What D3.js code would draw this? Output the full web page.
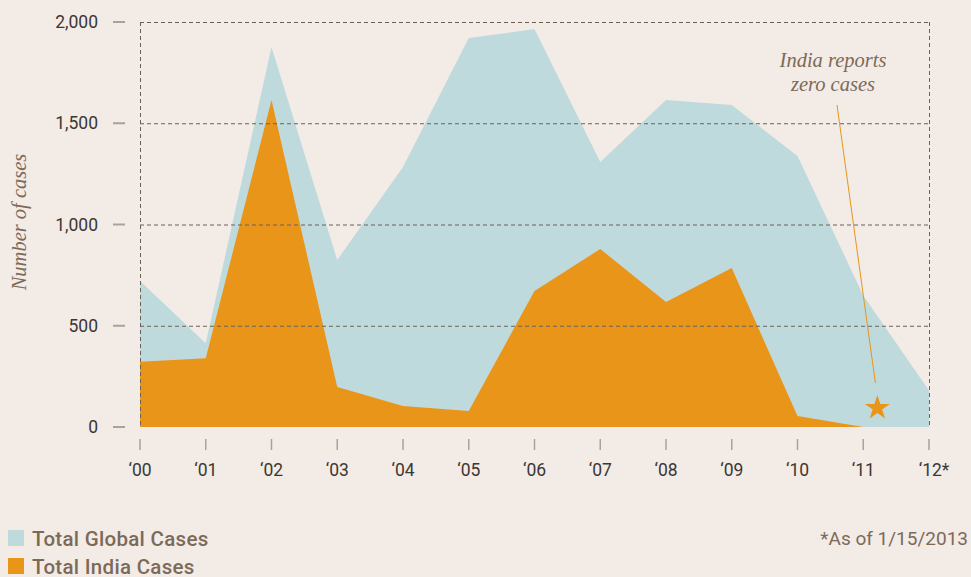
<!DOCTYPE html>
<html>
<head>
<meta charset="utf-8">
<script src="https://cdn.jsdelivr.net/npm/d3@7"></script>
<style>
  body { margin: 0; background: #f3ebe6; }
  svg { display: block; }
</style>
</head>
<body>
<div class="chart"></div>
<script>
// years shown on the x axis
const years = ["00", "01", "02", "03", "04", "05", "06", "07", "08", "09", "10", "11", "12"]
const yearLabels = ["\u201800", "\u201801", "\u201802", "\u201803", "\u201804", "\u201805", "\u201806", "\u201807", "\u201808", "\u201809", "\u201810", "\u201811", "\u201812*"]
// polio cases
const globalCases = [721, 413, 1876, 825, 1284, 1921, 1965, 1309, 1615, 1590, 1338, 650, 180]
const indiaCases = [322, 339, 1615, 198, 104, 79, 672, 879, 617, 785, 54, 0, 0]
const yTicks = [0, 500, 1000, 1500, 2000]
const legendItems = ["Total Global Cases", "Total India Cases"]
const zeroYear = 11.2

const width = 971, height = 577
const colBlue = "#bfdadd", colOrange = "#e8951a", colText = "#7b6a58"

let svg = d3.select(".chart").append("svg")
  .attr("width", width)
  .attr("height", height)

svg.append("rect").attr("width", width).attr("height", height).attr("fill", "#f3ebe6")

let x = d3.scaleLinear().domain([0, years.length - 1]).range([140, 929])
let y = d3.scaleLinear().domain([0, 2000]).range([427, 22])

let area = d3.area()
  .x((d, i) => x(i))
  .y0(y(0))
  .y1((d) => y(d))

svg.append("path").datum(globalCases).attr("d", area).attr("fill", colBlue)
svg.append("path").datum(indiaCases).attr("d", area).attr("fill", colOrange)

// dashed grid on top of the areas
let grid = svg.append("g")
  .attr("stroke", "#6d6157")
  .attr("stroke-width", 1)
  .attr("stroke-dasharray", "4,3")
grid.selectAll("line.h")
  .data(yTicks.filter((d) => d > 0))
  .enter()
  .append("line")
  .attr("x1", x(0)).attr("x2", x(years.length - 1))
  .attr("y1", (d) => y(d) + 0.5).attr("y2", (d) => y(d) + 0.5)
grid.selectAll("line.v")
  .data([0, years.length - 1])
  .enter()
  .append("line")
  .attr("x1", (d) => x(d) + 0.5).attr("x2", (d) => x(d) + 0.5)
  .attr("y1", y(2000)).attr("y2", y(0))

// y axis ticks + labels
let yAxis = svg.append("g")
yAxis.selectAll("line")
  .data(yTicks)
  .enter()
  .append("line")
  .attr("x1", 113).attr("x2", 125)
  .attr("y1", (d) => y(d)).attr("y2", (d) => y(d))
  .attr("stroke", "#aaa198").attr("stroke-width", 2)
yAxis.selectAll("text")
  .data(yTicks)
  .enter()
  .append("text")
  .attr("x", 98)
  .attr("y", (d) => y(d) + 6)
  .attr("text-anchor", "end")
  .attr("font-family", "Roboto")
  .attr("font-size", 17.5)
  .attr("fill", "#3b3733")
  .text((d) => d3.format(",")(d))

// x axis ticks + labels
let xAxis = svg.append("g")
xAxis.selectAll("line")
  .data(years)
  .enter()
  .append("line")
  .attr("x1", (d, i) => x(i)).attr("x2", (d, i) => x(i))
  .attr("y1", 439).attr("y2", 450)
  .attr("stroke", "#aaa198").attr("stroke-width", 1.5)
xAxis.selectAll("text")
  .data(yearLabels)
  .enter()
  .append("text")
  .attr("x", (d, i) => x(i) + (i == years.length - 1 ? 5 : 0))
  .attr("y", 476)
  .attr("text-anchor", "middle")
  .attr("font-family", "Roboto")
  .attr("font-size", 17.5)
  .attr("fill", "#3b3733")
  .text((d) => d)

// axis title
svg.append("text")
  .attr("transform", "translate(26,222) rotate(-90)")
  .attr("text-anchor", "middle")
  .attr("font-family", "Liberation Serif")
  .attr("font-style", "italic")
  .attr("font-size", 20.5)
  .attr("fill", colText)
  .text("Number of cases")

// annotation
let note = svg.append("text")
  .attr("text-anchor", "middle")
  .attr("font-family", "Liberation Serif")
  .attr("font-style", "italic")
  .attr("font-size", 20.5)
  .attr("fill", colText)
note.append("tspan").attr("x", 833).attr("y", 67).text("India reports")
note.append("tspan").attr("x", 833).attr("y", 91).text("zero cases")
svg.append("line")
  .attr("x1", 837).attr("y1", 105)
  .attr("x2", x(zeroYear) - 1).attr("y2", 383)
  .attr("stroke", colOrange).attr("stroke-width", 1)
svg.append("path")
  .attr("d", d3.symbol().type(d3.symbolStar).size(190)())
  .attr("transform", `translate(${x(zeroYear) + 1},${y(0) - 19})`)
  .attr("fill", colOrange)

// legend
let legend = svg.append("g")
legend.selectAll("rect")
  .data(legendItems)
  .enter()
  .append("rect")
  .attr("x", 8)
  .attr("y", (d, i) => 530 + i * 28)
  .attr("width", 16).attr("height", 16)
  .attr("fill", (d, i) => i == 0 ? colBlue : colOrange)
legend.selectAll("text")
  .data(legendItems)
  .enter()
  .append("text")
  .attr("x", 32)
  .attr("y", (d, i) => 546 + i * 28)
  .attr("font-family", "Roboto")
  .attr("font-weight", 500)
  .attr("font-size", 20.5)
  .attr("letter-spacing", 0.3)
  .attr("fill", colText)
  .text((d) => d)

svg.append("text")
  .attr("x", 968)
  .attr("y", 545)
  .attr("text-anchor", "end")
  .attr("font-family", "Roboto")
  .attr("font-size", 19)
  .attr("fill", colText)
  .text("*As of 1/15/2013")
</script>
</body>
</html>
